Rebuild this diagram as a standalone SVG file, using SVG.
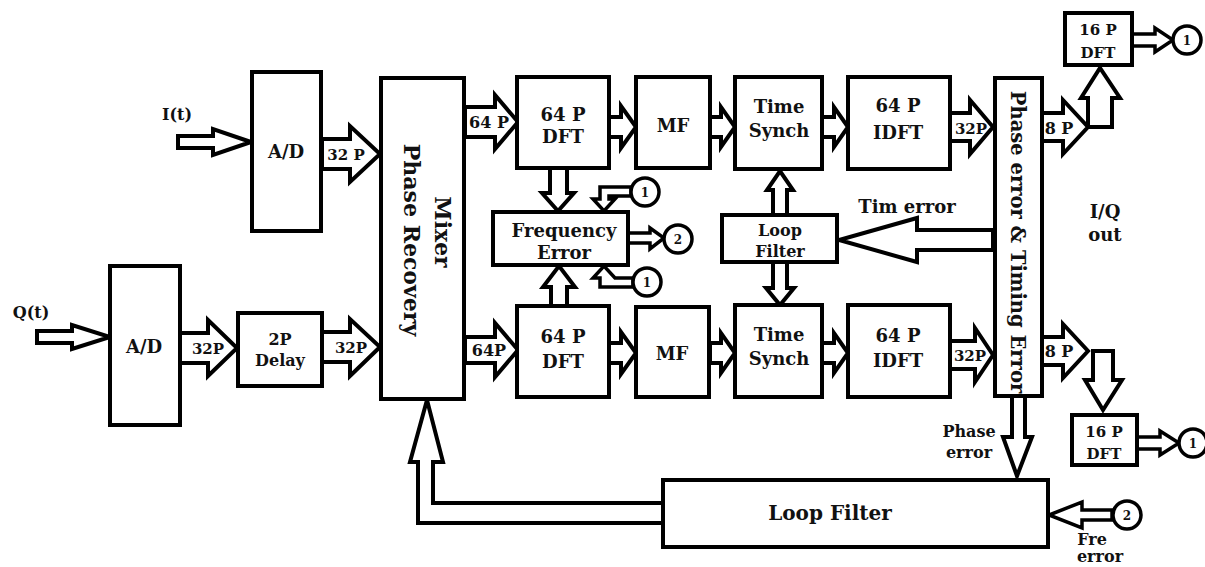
<svg xmlns="http://www.w3.org/2000/svg" width="1205" height="567" viewBox="0 0 1205 567">
<style>
.box{fill:#fff;stroke:#000;stroke-width:4}
.arr{fill:#fff;stroke:#000;stroke-width:4;stroke-linejoin:miter}
.arr3{fill:#fff;stroke:#000;stroke-width:3.5;stroke-linejoin:miter}
.cir{fill:#fff;stroke:#000;stroke-width:3.5}
text{font-family:"DejaVu Serif","Liberation Serif",serif;font-weight:bold;fill:#111;text-anchor:middle}
.t19{font-size:18px}
.t17{font-size:16px}
.t15{font-size:15px}
.t13{font-size:12px}
.big{font-size:22px}
.pe{font-size:19.5px}
</style>
<rect width="1205" height="567" fill="#fff"/>

<g id="connectors">
  <polygon class="arr" points="178,136 213,136 213,129 251,142 213,155 213,148 178,148"/>
  <polygon class="arr" points="37,331 72,331 72,325 110,337 72,349 72,343 37,343"/>
  <polygon class="arr" points="322,139 350,139 350,126 380,154 350,182 350,169 322,169"/>
  <polygon class="arr" points="180,333 208,333 208,320 237,348 208,376 208,363 180,363"/>
  <polygon class="arr" points="322,332 350,332 350,319 380,347 350,376 350,362 322,362"/>
  <polygon class="arr" points="465,107 495,107 495,95 518,122 495,149 495,137 465,137"/>
  <polygon class="arr" points="465,337 495,337 495,323 518,350 495,377 495,363 465,363"/>
  <polygon class="arr" points="609,117 621,117 621,106 636,127 621,148 621,137 609,137"/>
  <polygon class="arr" points="710,117 721,117 721,107 735,127 721,147 721,137 710,137"/>
  <polygon class="arr" points="822,117 834,117 834,107 848,127 834,147 834,137 822,137"/>
  <polygon class="arr" points="950,113 970,113 970,100 993,127 970,154 970,141 950,141"/>
  <polygon class="arr" points="609,343 621,343 621,332 636,353 621,374 621,363 609,363"/>
  <polygon class="arr" points="710,343 721,343 721,333 735,353 721,373 721,363 710,363"/>
  <polygon class="arr" points="822,343 834,343 834,333 848,353 834,373 834,363 822,363"/>
  <polygon class="arr" points="950,341 975,341 975,328 993,355 975,382 975,369 950,369"/>
  <polygon class="arr" points="1042,113 1063,113 1063,100 1088,127 1063,154 1063,141 1042,141"/>
  <polygon class="arr" points="1088,127 1088,98 1081,98 1100,68 1120,98 1112,98 1112,127"/>
  <polygon class="arr" points="1042,337 1063,337 1063,324 1088,351 1063,378 1063,365 1042,365"/>
  <polygon class="arr" points="1093,351 1113,351 1113,380 1122,380 1103,410 1085,380 1093,380"/>
  <polygon class="arr3" points="1132,34 1155,34 1155,28 1173,40 1155,52 1155,46 1132,46"/>
  <polygon class="arr3" points="1137,437 1160,437 1160,431 1179,443 1160,455 1160,449 1137,449"/>
  <polygon class="arr" points="550,168 567,168 567,193 574,193 558,211 542,193 550,193"/>
  <polygon class="arr" points="551,306 551,287 543,287 559,266 575,287 567,287 567,306"/>
  <polygon class="arr3" points="631,187 600,187 600,199 593,199 604,211 615,199 609,199 609,196 631,196"/>
  <polygon class="arr3" points="633,287 600,287 600,278 593,278 604,266 615,278 633,278"/>
  <polygon class="arr3" points="628,233 650,233 650,228 664,238 650,249 650,243 628,243"/>
  <polygon class="arr" points="773,215 773,190 767,190 780,171 793,190 787,190 787,215"/>
  <polygon class="arr" points="773,262 787,262 787,288 794,288 780,305 766,288 773,288"/>
  <polygon class="arr" points="993,230 917,230 917,218 839,240 917,262 917,250 993,250"/>
  <polygon class="arr" points="1012,396 1025,396 1025,437 1032,437 1017,476 1003,437 1012,437"/>
  <polygon class="arr" points="663,503 433,503 433,462 443,462 427,400 410,462 418,462 418,523 663,523"/>
  <polygon class="arr3" points="1112,510 1082,510 1082,502 1049,515 1082,528 1082,520 1112,520"/>
</g>

<g id="label-it"><text class="t17" x="177" y="120">I(t)</text></g>
<g id="label-qt"><text class="t17" x="31" y="318">Q(t)</text></g>

<g id="ad-top">
  <rect class="box" x="252" y="72" width="69" height="159"/>
  <text class="t19" x="286" y="158">A/D</text>
</g>
<g id="ad-bottom">
  <rect class="box" x="110" y="266" width="70" height="159"/>
  <text class="t19" x="144" y="353">A/D</text>
</g>
<g id="delay">
  <rect class="box" x="238" y="313" width="84" height="73"/>
  <text class="t17" x="280" y="345">2P</text>
  <text class="t17" x="280" y="366">Delay</text>
</g>
<g id="mixer">
  <rect class="box" x="381" y="78" width="83" height="321"/>
  <text class="big" transform="translate(443,232) rotate(90)" y="8">Mixer</text>
  <text class="big" transform="translate(412,240) rotate(90)" y="8">Phase Recovery</text>
</g>

<g id="arrow-labels">
  <text class="t15" x="346" y="160">32 P</text>
  <text class="t15" x="208" y="354">32P</text>
  <text class="t15" x="351" y="353">32P</text>
  <text class="t17" x="489" y="128">64 P</text>
  <text class="t17" x="489" y="356">64P</text>
  <text class="t15" x="971" y="134">32P</text>
  <text class="t15" x="970" y="361">32P</text>
  <text class="t17" x="1059" y="134">8 P</text>
  <text class="t17" x="1059" y="357">8 P</text>
</g>

<g id="dft-top">
  <rect class="box" x="517" y="77" width="92" height="91"/>
  <text class="t19" x="563" y="121">64 P</text>
  <text class="t19" x="563" y="143">DFT</text>
</g>
<g id="mf-top">
  <rect class="box" x="636" y="77" width="74" height="91"/>
  <text class="t19" x="673" y="132">MF</text>
</g>
<g id="ts-top">
  <rect class="box" x="735" y="77" width="87" height="92"/>
  <text class="t19" x="779" y="113">Time</text>
  <text class="t19" x="779" y="137">Synch</text>
</g>
<g id="idft-top">
  <rect class="box" x="848" y="77" width="102" height="92"/>
  <text class="t19" x="898" y="112">64 P</text>
  <text class="t19" x="898" y="139">IDFT</text>
</g>

<g id="dft-bottom">
  <rect class="box" x="517" y="306" width="92" height="91"/>
  <text class="t19" x="563" y="343">64 P</text>
  <text class="t19" x="563" y="368">DFT</text>
</g>
<g id="mf-bottom">
  <rect class="box" x="636" y="307" width="73" height="90"/>
  <text class="t19" x="672" y="360">MF</text>
</g>
<g id="ts-bottom">
  <rect class="box" x="735" y="305" width="87" height="92"/>
  <text class="t19" x="779" y="341">Time</text>
  <text class="t19" x="779" y="365">Synch</text>
</g>
<g id="idft-bottom">
  <rect class="box" x="848" y="305" width="102" height="92"/>
  <text class="t19" x="898" y="342">64 P</text>
  <text class="t19" x="898" y="367">IDFT</text>
</g>

<g id="freq-error">
  <rect class="box" x="493" y="212" width="135" height="53"/>
  <text class="t19" x="564" y="237">Frequency</text>
  <text class="t19" x="564" y="259">Error</text>
</g>
<g id="circle-1a">
  <circle class="cir" cx="645" cy="192" r="14"/>
  <text class="t13" x="645" y="197">1</text>
</g>
<g id="circle-1b">
  <circle class="cir" cx="647" cy="282" r="14"/>
  <text class="t13" x="647" y="287">1</text>
</g>
<g id="circle-2a">
  <circle class="cir" cx="678" cy="239" r="14"/>
  <text class="t13" x="678" y="244">2</text>
</g>

<g id="loop-filter-mid">
  <rect class="box" x="722" y="215" width="115" height="47"/>
  <text class="t17" x="780" y="236">Loop</text>
  <text class="t17" x="780" y="257">Filter</text>
</g>
<g id="label-tim-error"><text class="t19" x="907" y="213">Tim error</text></g>

<g id="phase-timing">
  <rect class="box" x="995" y="78" width="47" height="318"/>
  <text class="pe" transform="translate(1018,242) rotate(90)" y="7">Phase error &amp; Timing Error</text>
</g>

<g id="dft16-top">
  <rect class="box" x="1065" y="13" width="67" height="52"/>
  <text class="t15" x="1098" y="35">16 P</text>
  <text class="t15" x="1098" y="58">DFT</text>
</g>
<g id="circle-1c">
  <circle class="cir" cx="1187" cy="40" r="14"/>
  <text class="t13" x="1187" y="45">1</text>
</g>
<g id="label-iq"><text class="t19" x="1105" y="218">I/Q</text><text class="t19" x="1105" y="241">out</text></g>

<g id="dft16-bottom">
  <rect class="box" x="1072" y="415" width="65" height="50"/>
  <text class="t15" x="1104" y="437">16 P</text>
  <text class="t15" x="1104" y="459">DFT</text>
</g>
<g id="circle-1d">
  <circle class="cir" cx="1193" cy="443" r="14"/>
  <text class="t13" x="1193" y="448">1</text>
</g>

<g id="label-phase-error"><text class="t17" x="969" y="437">Phase</text><text class="t17" x="969" y="458">error</text></g>

<g id="loop-filter-bottom">
  <rect class="box" x="663" y="480" width="385" height="67"/>
  <text class="big" style="font-size:20px" x="830" y="520">Loop Filter</text>
</g>
<g id="circle-2b">
  <circle class="cir" cx="1127" cy="515" r="14"/>
  <text class="t13" x="1127" y="520">2</text>
</g>
<g id="label-fre-error"><text class="t17" x="1092" y="545">Fre</text><text class="t17" x="1100" y="562">error</text></g>
</svg>
